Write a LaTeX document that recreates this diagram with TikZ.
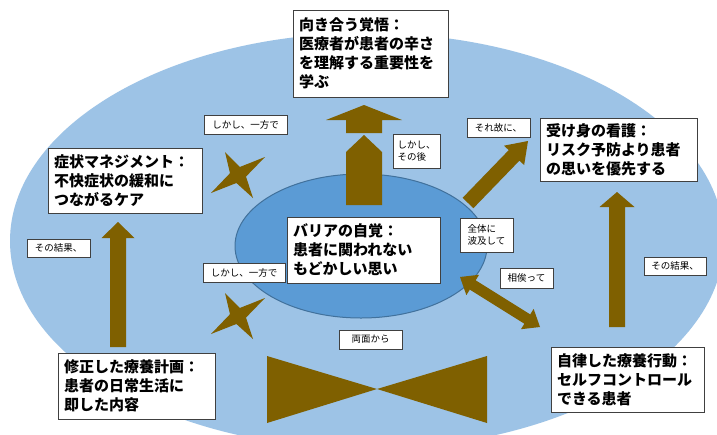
\documentclass[tikz,border=0pt]{standalone}
\usepackage{fontspec}
\newfontfamily\jp{Noto Sans CJK JP}
\usetikzlibrary{calc}
\definecolor{outerblue}{HTML}{9DC3E6}
\definecolor{innerblue}{HTML}{5B9BD5}
\definecolor{innerline}{HTML}{41719C}
\definecolor{arrowc}{HTML}{7F6000}
\definecolor{boxline}{HTML}{404040}
\tikzset{
  bigbox/.style={draw=boxline, line width=1pt, fill=white, font=\jp\bfseries\fontsize{15}{19}\selectfont, align=left, inner xsep=6pt, inner ysep=2pt},
  lab/.style={draw=boxline, line width=0.8pt, fill=white, font=\jp\fontsize{9.5}{12}\selectfont, align=left, inner sep=1pt},
  arrowfill/.style={fill=arrowc},
}
% #1 tail, #2 tip, #3 shaft half width, #4 head half width, #5 head length
\newcommand\blockarrow[5]{%
  \path ($(#2)!#5!(#1)$) coordinate (bax);
  \fill[arrowfill] ($(#1)!#3!90:(#2)$) -- ($(bax)!#3!90:(#2)$) -- ($(bax)!#4!90:(#2)$) -- (#2)
    -- ($(bax)!#4!-90:(#2)$) -- ($(bax)!#3!-90:(#2)$) -- ($(#1)!#3!-90:(#2)$) -- cycle;}
\newcommand\doublearrow[5]{%
  \path ($(#1)!#5!(#2)$) coordinate (bxa) ($(#2)!#5!(#1)$) coordinate (bxb);
  \fill[arrowfill] (#1) -- ($(bxa)!#4!90:(#2)$) -- ($(bxa)!#3!90:(#2)$) -- ($(bxb)!#3!90:(#2)$)
    -- ($(bxb)!#4!90:(#2)$) -- (#2) -- ($(bxb)!#4!-90:(#2)$) -- ($(bxb)!#3!-90:(#2)$)
    -- ($(bxa)!#3!-90:(#2)$) -- ($(bxa)!#4!-90:(#2)$) -- cycle;}
\newcommand\fourstar[1]{%
  \fill[arrowfill, shift={(#1)}] (-13,-23) -- (1.8,-8) -- (27,-18) -- (8,1.6) -- (15,23)
    -- (-1.6,8) -- (-27,18) -- (-8,-1.8) -- cycle;}
\begin{document}
\begin{tikzpicture}[x=1pt,y=-1pt]
\useasboundingbox (0,0) rectangle (717,434);
\fill[white] (0,0) rectangle (717,434);
\begin{scope}
  \clip (0,0) rectangle (717,434);
  \fill[outerblue] (367,241) ellipse [x radius=357pt, y radius=208pt];
\end{scope}
\filldraw[fill=innerblue, draw=innerline, line width=1pt] (361,246) ellipse [x radius=126pt, y radius=72pt];

% arrow end points
\coordinate (upBase) at (364,205);
\coordinate (diagT) at (468,203);
\coordinate (diagH) at (528,141);
\coordinate (dblA) at (460,277);
\coordinate (dblB) at (540,327);
\coordinate (leftT) at (118,347);
\coordinate (leftH) at (118,222);
\coordinate (rightT) at (617,327);
\coordinate (rightH) at (617,192);

% central upward arrow (two parts)
\fill[arrowfill] (346,205) -- (346,152) -- (364,135) -- (382,152) -- (382,205) -- cycle;
\fill[arrowfill] (346,133) -- (346,120) -- (326,120) -- (364,105) -- (402,120) -- (382,120) -- (382,133) -- cycle;

\blockarrow{diagT}{diagH}{7.5pt}{14pt}{20pt}
\doublearrow{dblA}{dblB}{5.5pt}{12pt}{15pt}
\blockarrow{leftT}{leftH}{8pt}{16.5pt}{16pt}
\blockarrow{rightT}{rightH}{8pt}{17.5pt}{15pt}

\fourstar{238,175}
\fourstar{238,316}

\fill[arrowfill] (267,356) -- (377,389) -- (487,356) -- (487,423) -- (377,389) -- (267,423) -- cycle;

% main boxes
\node[bigbox, text width=143pt, minimum height=87pt] (face) at (370.5,53.5) {向き合う覚悟：\\医療者が患者の辛さ\\を理解する重要性を\\学ぶ};
\node[bigbox, text width=142pt, minimum height=65pt] (symp) at (125,180.5) {症状マネジメント：\\不快症状の緩和に\\つながるケア};
\node[bigbox, text width=145pt, minimum height=63pt] (pass) at (618.5,149.5) {受け身の看護：\\リスク予防より患者\\の思いを優先する};
\node[bigbox, text width=141pt, minimum height=66pt] (barr) at (363.5,250) {バリアの自覚：\\患者に関われない\\もどかしい思い};
\node[bigbox, text width=145pt, minimum height=66pt] (plan) at (136.5,386) {修正した療養計画：\\患者の日常生活に\\即した内容};
\node[bigbox, text width=141pt, minimum height=65pt] (self) at (627.5,379.5) {自律した療養行動：\\セルフコントロール\\できる患者};

% small labels
\node[lab, minimum width=83pt, minimum height=19pt] (l1) at (245.5,124.5) {しかし、一方で};
\node[lab, minimum width=82pt, minimum height=19pt] (l2) at (244,272.5) {しかし、一方で};
\node[lab, minimum width=63pt, minimum height=18pt] (l3) at (58.5,248) {その結果、};
\node[lab, minimum width=62pt, minimum height=18pt] (l4) at (675,266) {その結果、};
\node[lab, minimum width=63pt, minimum height=19pt] (l5) at (498.5,127.5) {それ故に、};
\node[lab, minimum width=47pt, minimum height=34pt] (l6) at (416.5,151) {しかし、\\その後};
\node[lab, minimum width=53pt, minimum height=34pt] (l7) at (486.5,235) {全体に\\波及して};
\node[lab, minimum width=53pt, minimum height=20pt] (l8) at (526.5,278) {相俟って};
\node[lab, minimum width=63pt, minimum height=19pt] (l9) at (370.5,339.5) {両面から};
\end{tikzpicture}
\end{document}
